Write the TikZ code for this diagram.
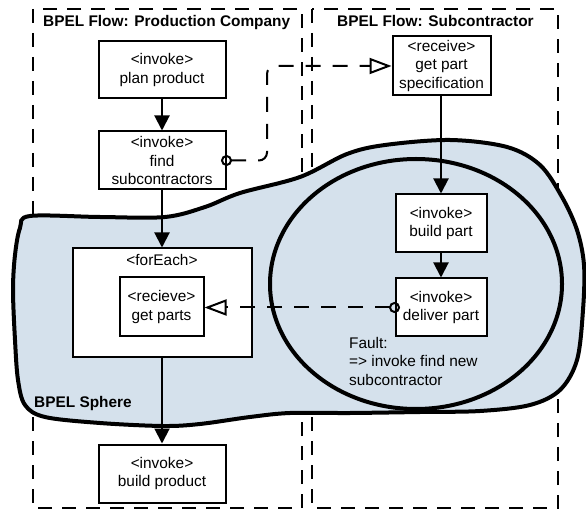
\documentclass[tikz,border=0pt]{standalone}
\usepackage{fontspec}
\setmainfont{Liberation Sans}
\usetikzlibrary{arrows.meta}
\definecolor{spherefill}{RGB}{213,225,236}

\tikzset{
  txt/.style={font=\fontsize{15.4pt}{18.5pt}\selectfont},
  act/.style={draw, line width=2pt, fill=white, align=center, inner sep=0pt, txt},
  flowbox/.style={draw, line width=1.8pt, dash pattern=on 14pt off 10pt},
  flow/.style={line width=2pt, -{Triangle[length=15pt,width=15pt]}},
  msg/.style={line width=2pt, dash pattern=on 15pt off 12pt,
    {Circle[open,length=11pt,width=11pt]}-{Triangle[open,length=22pt,width=16pt]},
    shorten <=-5.5pt},
  sphere/.style={draw, line width=4pt, fill=spherefill},
  heading/.style={anchor=base west, inner sep=0pt,
    font=\fontsize{15.4pt}{18.5pt}\selectfont\bfseries},
}

\begin{document}
\begin{tikzpicture}[x=1pt,y=-1pt]
\useasboundingbox (0,0) rectangle (586,510);

% the two process partitions
\draw[flowbox] (33,9) rectangle (302,508);
\draw[flowbox] (312,9) rectangle (558,508);

% BPEL sphere outline
\draw[sphere] plot[smooth cycle, tension=0.55] coordinates {
  (30,216) (100,217) (165,217) (205,207) (240,193) (300,177) (347,154)
  (385,145) (450,140) (507,147) (540,165) (562,197) (577,230) (584,265)
  (583,310) (577,360) (560,390) (530,405) (480,411) (420,412) (350,413)
  (290,413) (250,417) (200,424) (163,426) (100,423) (45,417) (25,405)
  (18,380) (15,340) (13,290) (15,255) (20,228)};

% scope of the subcontractor part
\draw[sphere] (416,284) ellipse [x radius=146, y radius=125];

% titles
\node[heading] (t1) at (43,27) {BPEL Flow: Production Company};
\node[heading] (t2) at (337,27) {BPEL Flow: Subcontractor};
\node[heading] (t3) at (34,407) {BPEL Sphere};

% activities of the production company
\node[act, minimum width=127pt, minimum height=57pt] (pp) at (162,70)
  {<invoke>\\plan product};
\node[act, minimum width=127pt, minimum height=58pt] (fs) at (162,160.5)
  {<invoke>\\find\\subcontractors};
\node[act, minimum width=179pt, minimum height=108pt] (fe) at (162,302.5) {};
\node[txt, inner sep=0pt] (fel) at (162,260) {<forEach>};
\node[act, minimum width=84pt, minimum height=59pt] (gp) at (161.5,307)
  {<recieve>\\get parts};
\node[act, minimum width=127pt, minimum height=58pt] (bp) at (162,473.5)
  {<invoke>\\build product};

% activities of the subcontractor
\node[act, minimum width=98pt, minimum height=59pt] (gps) at (441.5,66)
  {<receive>\\get part\\specification};
\node[act, minimum width=91pt, minimum height=58pt] (bpt) at (441,223.5)
  {<invoke>\\build part};
\node[act, minimum width=91pt, minimum height=58pt] (dp) at (441,307.5)
  {<invoke>\\deliver part};

\node[txt, anchor=west, align=left, inner sep=0pt] (fault) at (349,361)
  {Fault:\\=> invoke find new\\subcontractor};

% control flow
\draw[flow] (pp) -- (fs);
\draw[flow] (fs) -- (fe);
\draw[flow] (fe) -- (bp);
\draw[flow] (gps.south -| bpt.north) -- (bpt.north);
\draw[flow] (bpt) -- (dp);

% message exchanges
\coordinate (bend) at (267,0);
\draw[msg, rounded corners=8pt] (fs.east) -| (bend |- gps.west) -- (gps.west);
\draw[msg] (dp.west) -- (gp.east |- dp.west);
\end{tikzpicture}
\end{document}
